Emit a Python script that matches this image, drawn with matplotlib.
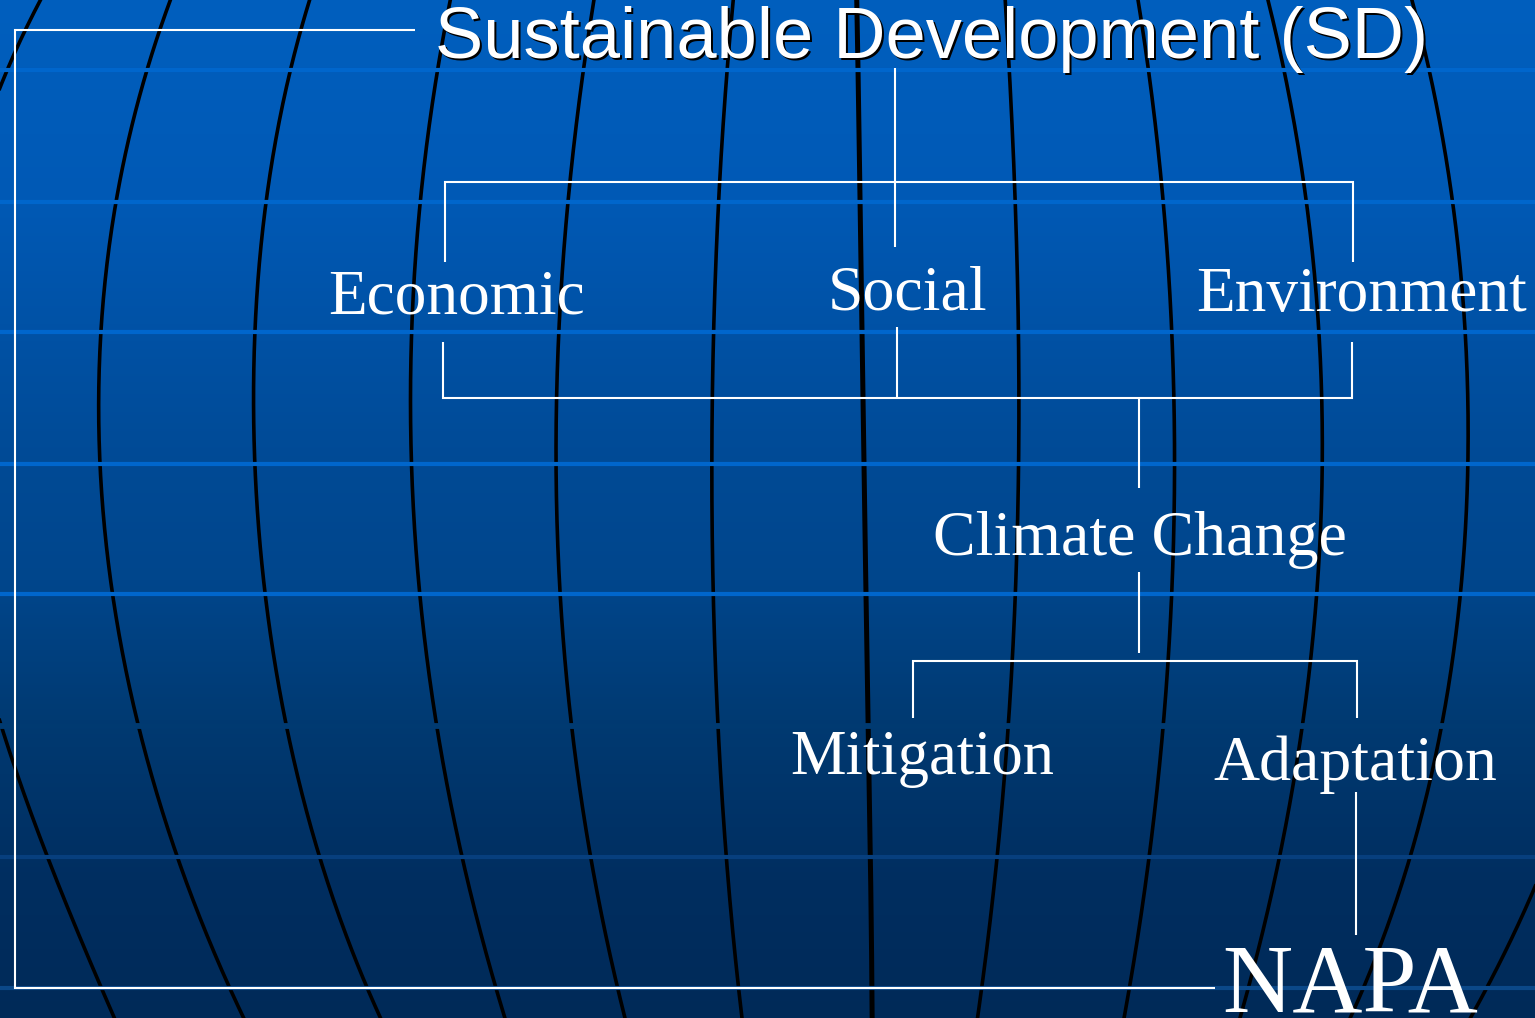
import numpy as np
import matplotlib
matplotlib.use("Agg")
import matplotlib.pyplot as plt
import matplotlib.transforms as mtransforms

# ---------------- data ----------------
W, H = 1535, 1018

# background gradient colour stops (y, rgb 0-255)
BG_Y = [0, 200, 464, 580, 720, 880, 1018]
BG_RGB = [(0, 95, 190), (0, 89, 181), (0, 74, 149), (0, 70, 140),
          (0, 58, 114), (0, 46, 96), (0, 42, 88)]

# globe meridians: x positions read at these y values
MER_Y = [12, 202, 464, 720, 892, 1006]
MERIDIANS = [
    [34, -35, -55, 2, 59, 110],
    [166, 116, 100, 137, 190, 238],
    [306, 266, 255, 285, 331, 375],
    [448, 420, 412, 435, 471, 501],
    [592, 568, 556, 571, 597, 622],
    [732, 719, 711, 719, 728, 741],
    [857, 860, 864, 868, 871, 872],
    [1006, 1015, 1019, 1008, 994, 979],
    [1140, 1163, 1175, 1163, 1145, 1126],
    [1271, 1306, 1323, 1302, 1273, 1243],
    [1415, 1453, 1467, 1444, 1398, 1356],
    [1575, 1610, 1625, 1595, 1530, 1478],
]
MER_WIDTH = [2.6] * 6 + [3.6] + [2.6] * 5

# horizontal latitude bands
BAND_Y = [70, 202, 332, 464, 594, 726, 857, 988]
BAND_COLORS = ['#0066CC', '#0066CC', '#0066CC', '#0066CC', '#0066CC',
               None, '#073F7E', '#0B4888']

# white connector lines (polylines)
CONNECTORS = [
    [(415, 30), (15, 30), (15, 988), (1215, 988)],
    [(895, 68), (895, 247)],
    [(445, 262), (445, 182), (1353, 182), (1353, 262)],
    [(443, 342), (443, 398), (1352, 398), (1352, 342)],
    [(897, 327), (897, 398)],
    [(1139, 398), (1139, 488)],
    [(1139, 572), (1139, 653)],
    [(913, 718), (913, 661), (1357, 661), (1357, 718)],
    [(1356, 792), (1356, 935)],
]

TITLE = "Sustainable Development (SD)"
LABELS = ["Economic", "Social", "Environment", "Climate Change",
          "Mitigation", "Adaptation", "NAPA"]
LABEL_X = [328, 828, 1196, 933, 790, 1213, 1222]
LABEL_BASE = [313, 309, 311, 555, 774, 780, 1012]
LABEL_SIZE = [45.5, 46, 45.5, 46, 45, 46, 70]

# ---------------- drawing ----------------
fig = plt.figure(figsize=(W / 100, H / 100), dpi=100)
ax = fig.add_axes([0, 0, 1, 1])
ax.set_xlim(0, W)
ax.set_ylim(H, 0)
ax.axis('off')

ys = np.arange(H)
grad = np.zeros((H, 1, 3))
for c in range(3):
    grad[:, 0, c] = np.interp(ys, BG_Y, [rgb[c] for rgb in BG_RGB]) / 255.0
ax.imshow(grad, extent=[0, W, H, 0], aspect='auto', zorder=0,
          interpolation='bilinear')

yy = np.linspace(-20, H + 20, 300)
for xs, lw in zip(MERIDIANS, MER_WIDTH):
    coef = np.polyfit(MER_Y, xs, 4)
    ax.plot(np.polyval(coef, yy), yy, color='black', lw=lw, zorder=1,
            solid_capstyle='butt')

for y, col in zip(BAND_Y, BAND_COLORS):
    if col is None:
        rgb = [np.interp(y, BG_Y, [c[i] for c in BG_RGB]) / 255 for i in range(3)]
        ax.plot([0, W], [y, y], color=rgb, lw=4.2, zorder=2)
    else:
        ax.plot([0, W], [y, y], color=col, lw=3.0, zorder=2)

for seg in CONNECTORS:
    px, py = zip(*seg)
    ax.plot(px, py, color='white', lw=1.5, zorder=3,
            solid_joinstyle='miter', solid_capstyle='butt')

shadow = mtransforms.offset_copy(ax.transData, fig=fig, x=2, y=-2, units='dots')
for tr, col in [(shadow, 'black'), (ax.transData, 'white')]:
    ax.text(435, 58, TITLE, transform=tr, color=col, fontsize=52,
            family='Liberation Sans', ha='left', va='baseline', zorder=4)

for lab, x, b, s in zip(LABELS, LABEL_X, LABEL_BASE, LABEL_SIZE):
    ax.text(x, b, lab, color='white', fontsize=s, family='Liberation Serif',
            ha='left', va='baseline', zorder=4)

fig.savefig('out.png', dpi=100)
